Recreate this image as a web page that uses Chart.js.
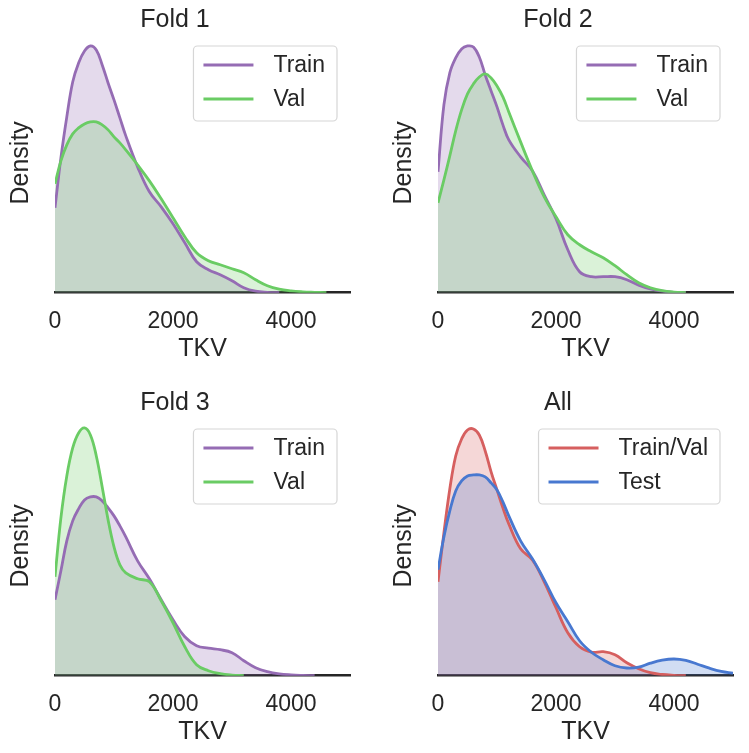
<!DOCTYPE html>
<html>
<head>
<meta charset="utf-8">
<script src="https://cdn.jsdelivr.net/npm/chart.js@4.4.1/dist/chart.umd.min.js"></script>
<style>
  body { margin: 0; background: #fff; width: 749px; height: 753px; overflow: hidden; position: relative; }
  canvas { position: absolute; }
</style>
</head>
<body>
<canvas id="fold1" width="366" height="376" style="left:0;top:0"></canvas>
<canvas id="fold2" width="366" height="376" style="left:383px;top:0"></canvas>
<canvas id="fold3" width="366" height="376" style="left:0;top:383px"></canvas>
<canvas id="all" width="366" height="376" style="left:383px;top:383px"></canvas>
<script>
// TKV grid the density curves are read at (finer around the peaks)
const tkv = [0, 100, 200, 300, 400, 500, 600, 700, 800, 900, 1000, 1100, 1200,
             1400, 1600, 1800, 2000, 2200, 2400, 2600, 2800, 3000, 3200, 3400,
             3600, 3800, 4000, 4200, 4400, 4600, 4800, 5000];
const xTicks = [0, 2000, 4000];

// density (arbitrary units, the original has no y ticks)
const fold1Train = [85, 135, 176, 211, 230, 242, 247, 243, 228, 210, 193, 175, 157,
                    126, 101, 86, 69, 50, 31, 23, 18, 12, 5, 1.5, 0.4, 0];
const fold1Val   = [109, 132, 148, 159, 165, 169, 171, 171, 168, 163, 156, 150, 143,
                    128, 112, 94, 75, 56, 40, 32, 28, 24, 20, 13, 7, 3.5, 1.8, 0.9, 0.4, 0];
const fold2Train = [121, 188, 220, 235, 244, 247, 246, 236, 218, 202, 186, 168, 153,
                    136, 122, 98, 74, 43, 21, 16, 16, 16, 13, 7.5, 3.7, 1.5, 0.4, 0];
const fold2Val   = [90, 113, 137, 162, 183, 199, 209, 216, 219, 215, 207, 196, 181,
                    151, 122, 96, 76, 58, 48, 41, 35, 27, 18, 10, 5, 2, 0.6, 0];
const fold3Train = [76, 105, 135, 155, 167, 176, 179, 179, 175, 168, 160, 150, 139,
                    115, 97, 76, 56, 39, 30, 27.5, 26, 23, 15, 8, 4, 1.8, 0.8, 0.3, 0];
const fold3Val   = [99, 158, 200, 228, 243, 248, 241, 220, 189, 156, 129, 111, 103,
                    97, 94, 75, 53, 29, 11, 5, 2, 0.6, 0];
const allTrainVal = [94, 143, 187, 220, 237, 246, 247, 241, 225, 204, 186, 168, 152,
                     127, 116, 94, 68, 43, 29, 23.5, 24, 21, 13, 7, 3, 1.2, 0.4, 0];
const allTest     = [106, 139, 165, 185, 195, 200, 201, 201, 199, 193, 186, 174, 160,
                     135, 117, 96, 73, 54, 35, 23.5, 16, 10, 7.7, 8.5, 12.5, 15.5, 16.7, 15.3, 11.5, 7.5, 4.3, 2.5];

const yMax = 260;

const purple = '#956cb4';
const green = '#6acc64';
const red = '#d65f5f';
const blue = '#4878d0';
const ink = '#262626';
const fontFamily = '"Liberation Sans", Arial, Helvetica, sans-serif';

function withAlpha(hex, a) {
  const n = parseInt(hex.slice(1), 16);
  return `rgba(${n >> 16},${(n >> 8) & 255},${n & 255},${a})`;
}

// order: higher is drawn first, so the second series sits on top like in matplotlib
function series(label, values, color, order) {
  return {
    label,
    order,
    data: values.map((y, i) => ({ x: tkv[i], y })),
    borderColor: color,
    backgroundColor: withAlpha(color, 0.25),
    borderWidth: 2.8,
    fill: 'origin',
    pointRadius: 0,
    tension: 0.4
  };
}

// matplotlib-style legend box in the upper right of the plot area
const boxLegend = {
  id: 'boxLegend',
  afterDraw(chart) {
    const { ctx, chartArea } = chart;
    const items = chart.data.datasets;
    ctx.save();
    ctx.font = `23px ${fontFamily}`;
    const textW = Math.max(...items.map(d => ctx.measureText(d.label).width));
    const w = 10 + 50 + 20 + textW + 12;
    const h = 75;
    const x = chartArea.right - 13 - w;
    const y = chartArea.top + 13;
    const r = 4;
    ctx.beginPath();
    ctx.moveTo(x + r, y);
    ctx.arcTo(x + w, y, x + w, y + h, r);
    ctx.arcTo(x + w, y + h, x, y + h, r);
    ctx.arcTo(x, y + h, x, y, r);
    ctx.arcTo(x, y, x + w, y, r);
    ctx.closePath();
    ctx.fillStyle = 'rgba(255,255,255,0.8)';
    ctx.fill();
    ctx.strokeStyle = '#d6d6d6';
    ctx.lineWidth = 1.2;
    ctx.stroke();
    items.forEach((d, i) => {
      const cy = y + 19 + i * 34;
      ctx.strokeStyle = d.borderColor;
      ctx.lineWidth = 3;
      ctx.beginPath();
      ctx.moveTo(x + 10, cy);
      ctx.lineTo(x + 60, cy);
      ctx.stroke();
      ctx.fillStyle = ink;
      ctx.textBaseline = 'middle';
      ctx.textAlign = 'left';
      ctx.fillText(d.label, x + 80, cy + 1);
    });
    ctx.restore();
  }
};

function makeChart(id, title, datasets) {
  new Chart(document.getElementById(id), {
    type: 'line',
    data: { datasets },
    options: {
      responsive: false,
      animation: false,
      layout: { padding: { left: 0, right: 16, top: 0, bottom: 0 } },
      plugins: {
        legend: { display: false },
        tooltip: { enabled: false },
        filler: { drawTime: 'beforeDatasetsDraw' },
        title: {
          display: true,
          text: title,
          color: ink,
          font: { family: fontFamily, size: 25, weight: 'normal', lineHeight: 1.04 },
          padding: { top: 7, bottom: 0 }
        }
      },
      scales: {
        x: {
          type: 'linear',
          min: 0,
          max: 5000,
          afterBuildTicks: s => { s.ticks = xTicks.map(v => ({ value: v })); },
          afterFit: s => { s.height = 376 - 292.7; },
          grid: { display: false, drawTicks: false },
          border: { display: true, color: ink, width: 2.5 },
          ticks: {
            color: ink,
            font: { family: fontFamily, size: 23 },
            padding: 15,
            maxRotation: 0,
            callback: v => String(v)
          },
          title: {
            display: true,
            text: 'TKV',
            color: ink,
            font: { family: fontFamily, size: 25 },
            padding: { top: 0, bottom: 12 }
          }
        },
        y: {
          min: 0,
          max: yMax,
          afterFit: s => { s.width = 55; },
          grid: { display: false, drawTicks: false },
          border: { display: false },
          ticks: { display: false },
          title: {
            display: true,
            text: 'Density',
            color: ink,
            font: { family: fontFamily, size: 25 },
            padding: { top: 6, bottom: 0 }
          }
        }
      }
    },
    plugins: [boxLegend]
  });
}

makeChart('fold1', 'Fold 1', [series('Train', fold1Train, purple, 1), series('Val', fold1Val, green, 0)]);
makeChart('fold2', 'Fold 2', [series('Train', fold2Train, purple, 1), series('Val', fold2Val, green, 0)]);
makeChart('fold3', 'Fold 3', [series('Train', fold3Train, purple, 1), series('Val', fold3Val, green, 0)]);
makeChart('all', 'All', [series('Train/Val', allTrainVal, red, 1), series('Test', allTest, blue, 0)]);
</script>
</body>
</html>
